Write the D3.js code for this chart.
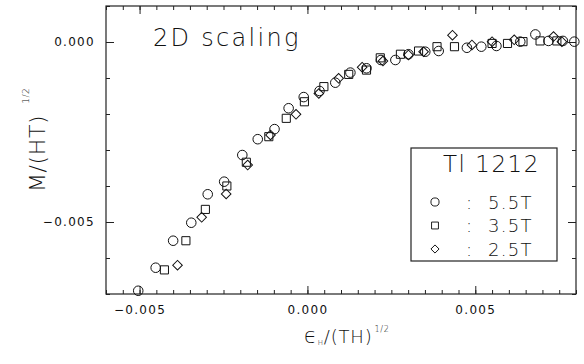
<!DOCTYPE html>
<html>
<head>
<meta charset="utf-8">
<script src="https://cdn.jsdelivr.net/npm/d3@7"></script>
<style>
  body { margin: 0; background: #fff; }
  svg { display: block; }
  .tick-lbl { font-family: "DejaVu Sans", sans-serif; font-size: 12px; letter-spacing: 1.3px; fill: #111; }
  .thin { font-family: "DejaVu Sans", sans-serif; font-weight: 200; fill: #111; }
</style>
</head>
<body>
<div id="chart"></div>
<script>
// values
const x55 = [-0.00504, -0.00452, -0.00400, -0.00346, -0.00297, -0.00248, -0.00194, -0.00148, -0.00098, -0.00056,
  -0.00011, 0.00036, 0.00083, 0.00128, 0.00176, 0.00219, 0.00262, 0.00301, 0.00351, 0.00391,
  0.00475, 0.00518, 0.00563, 0.00634, 0.00679, 0.00718, 0.00761, 0.00795];
const y55 = [-0.00691, -0.00627, -0.00552, -0.00502, -0.00423, -0.00388, -0.00314, -0.00270, -0.00242, -0.00184,
  -0.00153, -0.00136, -0.00113, -0.00085, -0.00073, -0.00050, -0.00050, -0.00034, -0.00027, -0.00025,
  -0.00016, -0.00013, -0.00011, 0.00001, 0.00021, 0.00003, 0.00003, 0.00001];

const x35 = [-0.00426, -0.00362, -0.00304, -0.00240, -0.00182, -0.00115, -0.00063, -0.00009, 0.00049, 0.00123,
  0.00176, 0.00217, 0.00277, 0.00331, 0.00386, 0.00438, 0.00550, 0.00596, 0.00642, 0.00693, 0.00743];
const y35 = [-0.00633, -0.00552, -0.00465, -0.00400, -0.00334, -0.00263, -0.00212, -0.00166, -0.00124, -0.00090,
  -0.00078, -0.00044, -0.00034, -0.00025, -0.00013, -0.00013, -0.00004, -0.00004, 0.00001, 0.00003, 0.00003];

const x25 = [-0.00387, -0.00315, -0.00242, -0.00178, -0.00110, -0.00034, 0.00034, 0.00093, 0.00163, 0.00225,
  0.00301, 0.00346, 0.00432, 0.00490, 0.00550, 0.00616, 0.00733, 0.00758];
const y25 = [-0.00620, -0.00487, -0.00422, -0.00342, -0.00258, -0.00201, -0.00143, -0.00101, -0.00070, -0.00053,
  -0.00036, -0.00027, 0.00019, -0.00008, 0.00001, 0.00006, 0.00015, 0.00001];

const seriesNames = ["5.5T", "3.5T", "2.5T"];
const xMajor = [-0.005, 0.000, 0.005];
const yMajor = [-0.005, 0.000];

const W = 584, H = 364;
const margin = { left: 106, right: 576, top: 6, bottom: 294 };

const svg = d3.select("#chart").append("svg")
  .attr("width", W)
  .attr("height", H);

const x = d3.scaleLinear().domain([-0.006, 0.008]).range([margin.left, margin.right]);
const y = d3.scaleLinear().domain([-0.007, 0.001]).range([margin.bottom, margin.top]);

const xMinor = d3.range(-0.006, 0.00801, 0.0005).map(v => +v.toFixed(4));
const yMinor = d3.range(-0.007, 0.00101, 0.001).map(v => +v.toFixed(3));
const fmt = d3.format(".3f");

// frame
svg.append("rect")
  .attr("x", margin.left).attr("y", margin.top)
  .attr("width", margin.right - margin.left).attr("height", margin.bottom - margin.top)
  .attr("fill", "none").attr("stroke", "#222").attr("stroke-width", 1.2);

function tickAxis(axis, tf, vals, size, labels) {
  const g = svg.append("g").attr("transform", tf)
    .call(axis.tickValues(vals).tickSize(-size).tickPadding(labels ? 11 : 0)
      .tickFormat(labels ? fmt : ""));
  g.select(".domain").remove();
  g.selectAll(".tick line").attr("stroke", "#222").attr("stroke-width", 1);
  g.selectAll(".tick text").attr("class", "tick-lbl").attr("fill", null);
  g.attr("font-size", null).attr("font-family", null);
  return g;
}

// minor ticks
tickAxis(d3.axisBottom(x), `translate(0,${margin.bottom})`, xMinor, 4, false);
tickAxis(d3.axisTop(x), `translate(0,${margin.top})`, xMinor, 4, false);
tickAxis(d3.axisLeft(y), `translate(${margin.left},0)`, yMinor, 4, false);
tickAxis(d3.axisRight(y), `translate(${margin.right},0)`, yMinor, 4, false);
// major ticks
tickAxis(d3.axisBottom(x), `translate(0,${margin.bottom})`, xMajor, 8, true);
tickAxis(d3.axisTop(x), `translate(0,${margin.top})`, xMajor, 8, false);
tickAxis(d3.axisLeft(y), `translate(${margin.left},0)`, yMajor, 8, true);
tickAxis(d3.axisRight(y), `translate(${margin.right},0)`, yMajor, 8, false);

// markers
const circleSym = d3.symbol().type(d3.symbolCircle).size(72)();
const squareSym = d3.symbol().type(d3.symbolSquare).size(66)();
const diamondSym = d3.symbol().type(d3.symbolSquare).size(46)();
const shapes = [
  { xs: x55, ys: y55, path: circleSym, rot: 0 },
  { xs: x35, ys: y35, path: squareSym, rot: 0 },
  { xs: x25, ys: y25, path: diamondSym, rot: 45 }
];

shapes.forEach(s => {
  svg.append("g").selectAll("path")
    .data(d3.zip(s.xs, s.ys))
    .enter().append("path")
    .attr("d", s.path)
    .attr("transform", d => `translate(${x(d[0])},${y(d[1])}) rotate(${s.rot})`)
    .attr("fill", "none")
    .attr("stroke", "#111")
    .attr("stroke-width", 1);
});

// title
svg.append("text").attr("class", "thin")
  .attr("x", 153).attr("y", 46)
  .style("font-size", "24px").style("letter-spacing", "2.3px")
  .text("2D scaling");

// legend
svg.append("rect")
  .attr("x", 411).attr("y", 148).attr("width", 146).attr("height", 113)
  .attr("fill", "#fff").attr("stroke", "#222").attr("stroke-width", 1.2);
svg.append("text").attr("class", "thin")
  .attr("x", 443).attr("y", 172)
  .style("font-size", "23px").style("letter-spacing", "1.5px")
  .text("Tl 1212");

const leg = svg.append("g").selectAll("g")
  .data(seriesNames)
  .enter().append("g")
  .attr("transform", (d, i) => `translate(0,${202 + i * 23.5})`);
leg.append("path")
  .attr("d", (d, i) => shapes[i].path)
  .attr("transform", (d, i) => `translate(435,0) rotate(${shapes[i].rot}) scale(0.85)`)
  .attr("fill", "none").attr("stroke", "#111").attr("stroke-width", 1.1);
leg.append("text").attr("class", "thin")
  .attr("x", 466).attr("y", 6.5)
  .style("font-size", "18px")
  .text(":");
leg.append("text").attr("class", "thin")
  .attr("x", 488).attr("y", 6.5)
  .style("font-size", "18px").style("letter-spacing", "1.3px")
  .text(d => d);

// y label
const yl = svg.append("text").attr("class", "thin")
  .attr("transform", "translate(45,192) rotate(-90)")
  .attr("x", 0).attr("y", 0)
  .style("font-size", "22px").style("letter-spacing", "0.6px");
yl.append("tspan").text("M/(HT)");
yl.append("tspan").attr("dx", 11).attr("dy", -16).style("font-size", "9px").text("1/2");

// x label
const xl = svg.append("text").attr("class", "thin")
  .attr("x", 304).attr("y", 343)
  .style("font-size", "18px").style("letter-spacing", "0.8px");
xl.append("tspan").style("font-size", "21px").text("ϵ");
xl.append("tspan").attr("dy", 2).style("font-size", "7px").text("H");
xl.append("tspan").attr("dy", -2).text("/(TH)");
xl.append("tspan").attr("dx", 2).attr("dy", -11).style("font-size", "8px").text("1/2");
</script>
</body>
</html>
